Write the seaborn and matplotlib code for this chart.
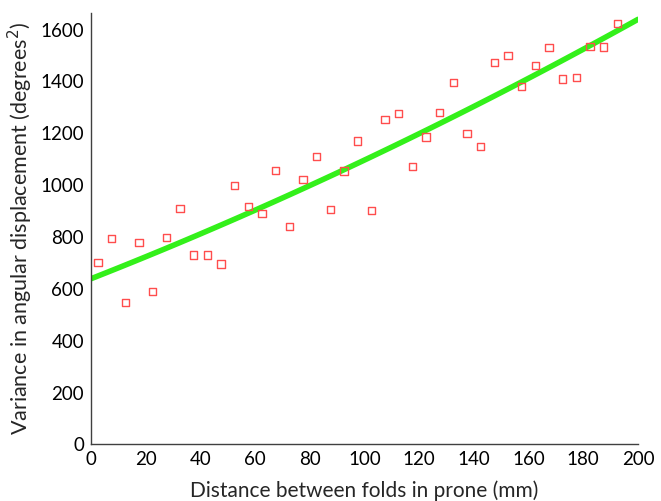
import pandas as pd
import seaborn as sns
import matplotlib.pyplot as plt
import numpy as np

# Data
distance = [2.5, 7.5, 12.5, 17.5, 22.5, 27.5, 32.5, 37.5, 42.5, 47.5,
            52.5, 57.5, 62.5, 67.5, 72.5, 77.5, 82.5, 87.5, 92.5, 97.5,
            102.5, 107.5, 112.5, 117.5, 122.5, 127.5, 132.5, 137.5, 142.5, 147.5,
            152.5, 157.5, 162.5, 167.5, 172.5, 177.5, 182.5, 187.5, 192.5]
variance = [702, 793, 548, 778, 590, 797, 909, 730, 730, 696,
            998, 918, 890, 1056, 840, 1022, 1110, 905, 1054, 1170,
            902, 1253, 1275, 1071, 1185, 1281, 1396, 1199, 1148, 1472,
            1501, 1381, 1462, 1530, 1409, 1416, 1534, 1532, 1624]

df = pd.DataFrame({"distance": distance, "variance": variance})

sns.set_style("white")
plt.rcParams["font.family"] = ["Lato", "DejaVu Sans"]

fig = plt.figure(figsize=(6.61, 5.01), dpi=100)
ax = fig.add_axes([0.1377, 0.1130, 0.8275, 0.8617])
ax.set_xlim(0, 200)
ax.set_ylim(0, 1665)

# quadratic fit across the whole axis range
sns.regplot(data=df, x="distance", y="variance", order=2, ci=None,
            scatter=False, truncate=False, ax=ax,
            line_kws={"color": "#33f01a", "lw": 4, "zorder": 2})

sns.scatterplot(data=df, x="distance", y="variance", ax=ax, marker="s", s=28,
                facecolors="none", edgecolor="#ff4d4d", linewidth=1.0, zorder=3)

ax.set_xticks(np.arange(0, 201, 20))
ax.set_yticks(np.arange(0, 1601, 200))
ax.tick_params(direction="in", length=4, width=1, color="#404040",
               labelsize=13.5, labelcolor="black", pad=5)
for side in ["top", "right"]:
    ax.spines[side].set_visible(False)
for side in ["left", "bottom"]:
    ax.spines[side].set_color("#404040")
    ax.spines[side].set_linewidth(1)

ax.set_xlabel("Distance between folds in prone (mm)", fontsize=15, labelpad=9)
ax.set_ylabel("Variance in angular displacement (degrees$^2$)", fontsize=15.5, labelpad=4)

fig.savefig("out.png", dpi=100)
